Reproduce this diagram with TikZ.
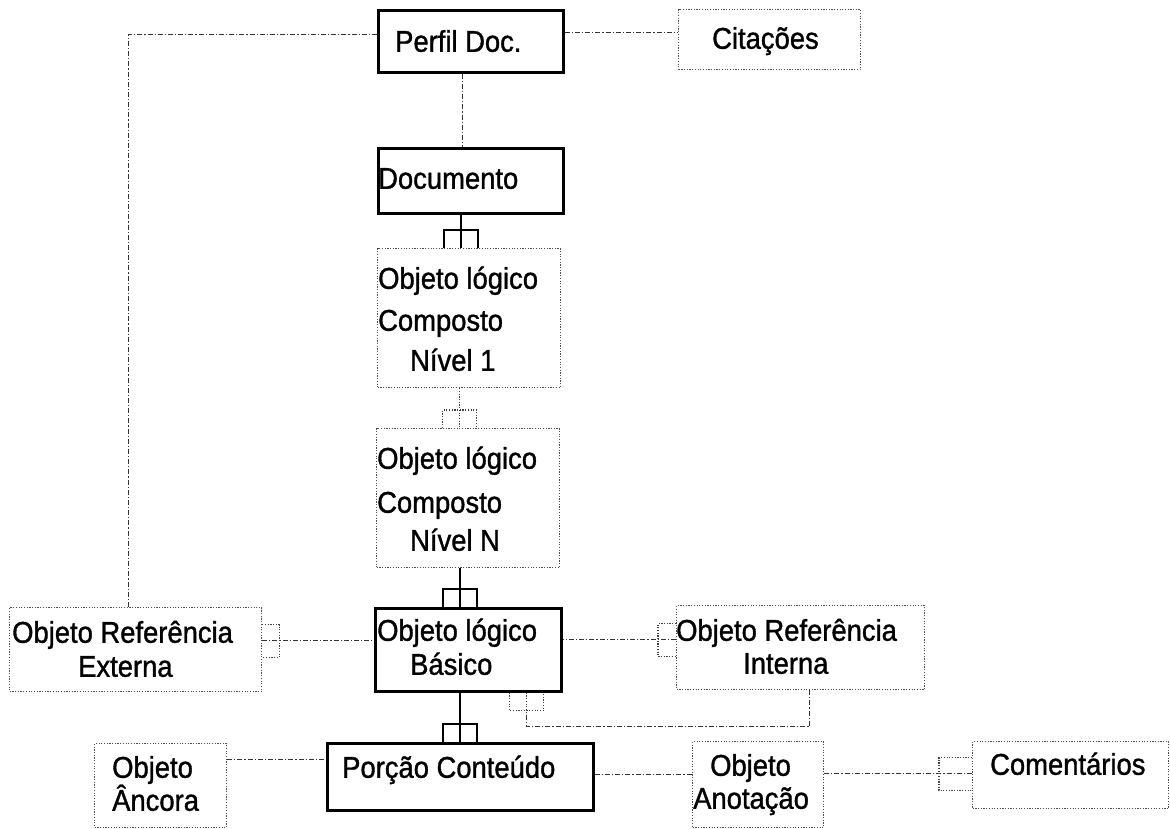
\documentclass[tikz,border=0pt]{standalone}
\usepackage{fontspec}
\newfontfamily\diagfont{Liberation Sans}[FakeBold=1.2, FakeStretch=0.913]
% "many" end drawn below a stem: style, upper node, lower node, stem offset
\newcommand\stemfork[4]{%
  \draw[#1] ([xshift=#4]#2.south) coordinate (fk) -- (fk |- #3.north) coordinate (fb);
  \draw[#1] ([xshift=-17pt]fb) -- ([xshift=-17pt,yshift=18pt]fb)
    -- ([xshift=17pt,yshift=18pt]fb) -- ([xshift=17pt]fb);}
\begin{document}
\begin{tikzpicture}[x=1pt,y=-1pt,
  lbl/.style={inner sep=0pt, anchor=west, text height=21.5pt, text depth=0pt,
    font=\diagfont\fontsize{30}{34}\selectfont},
  solidbox/.style={draw=black, line width=2.7pt, inner sep=0pt, anchor=north west},
  dotbox/.style={draw=black!70, line width=1.2pt, dash pattern=on 1.2pt off 1.5pt,
    inner sep=0pt, anchor=north west},
  link/.style={draw=black!80, line width=1.25pt, dash pattern=on 5pt off 2pt on 1.2pt off 2pt},
  strong/.style={draw=black, line width=2.2pt},
  dotlink/.style={draw=black!75, line width=1.2pt, dash pattern=on 1.2pt off 1.5pt}]
\useasboundingbox (0,0) rectangle (1170,828);

% boxes
\node[solidbox, minimum width=185pt, minimum height=62pt] (perfil) at (377,9) {};
\node[dotbox,   minimum width=182pt, minimum height=60pt] (cit)    at (678,9) {};
\node[solidbox, minimum width=185pt, minimum height=65pt] (doc)    at (377,147) {};
\node[dotbox,   minimum width=183pt, minimum height=139pt] (n1)    at (377,248) {};
\node[dotbox,   minimum width=183pt, minimum height=139pt] (nn)    at (376,428) {};
\node[solidbox, minimum width=186pt, minimum height=83pt] (bas)    at (374,607) {};
\node[dotbox,   minimum width=252pt, minimum height=84pt] (ext)    at (9,607) {};
\node[dotbox,   minimum width=248pt, minimum height=84pt] (int)    at (676,605) {};
\node[solidbox, minimum width=266pt, minimum height=67pt] (por)    at (326,742) {};
\node[dotbox,   minimum width=132pt, minimum height=84pt] (anc)    at (94,743) {};
\node[dotbox,   minimum width=131pt, minimum height=86pt] (anot)   at (692,741) {};
\node[dotbox,   minimum width=196pt, minimum height=67pt] (com)    at (972,741) {};

% labels
\node[lbl] (tperfil) at (395,41) {Perfil Doc.};
\node[lbl] (tcit)    at (712,38) {Citações};
\node[lbl] (tdoc)    at (378,178) {Documento};
\node[lbl] (tn1a)    at (378,278) {Objeto lógico};
\node[lbl] (tn1b)    at (378,320) {Composto};
\node[lbl] (tn1c)    at (410,360) {Nível 1};
\node[lbl] (tnna)    at (377,458) {Objeto lógico};
\node[lbl] (tnnb)    at (377,502) {Composto};
\node[lbl] (tnnc)    at (410,540) {Nível N};
\node[lbl] (tbasa)   at (377,630) {Objeto lógico};
\node[lbl] (tbasb)   at (410,664) {Básico};
\node[lbl] (texta)   at (12,632) {Objeto Referência};
\node[lbl] (textb)   at (78,666) {Externa};
\node[lbl] (tinta)   at (676,630) {Objeto Referência};
\node[lbl] (tintb)   at (743,663) {Interna};
\node[lbl] (tpor)    at (342,767) {Porção Conteúdo};
\node[lbl] (tanca)   at (112,767) {Objeto};
\node[lbl] (tancb)   at (112,800) {Âncora};
\node[lbl] (tanota)  at (710,765) {Objeto};
\node[lbl] (tanotb)  at (693,798) {Anotação};
\node[lbl] (tcom)    at (990,764) {Comentários};

% profile links
\draw[link] ([yshift=9pt]perfil.east) coordinate (pc) -- (pc -| cit.west);
\draw[link] ([yshift=7pt]perfil.west) -| ([xshift=-7pt]ext.north);
\draw[link] ([xshift=-8.5pt]perfil.south) coordinate (pd) -- (pd |- doc.north);

% composition chain
\stemfork{strong}{doc}{n1}{-9.5pt}
\stemfork{dotlink}{n1}{nn}{-9.5pt}
\stemfork{strong}{nn}{bas}{-8.5pt}
\stemfork{strong}{bas}{por}{-8pt}

% external reference
\draw[link] ([yshift=9pt]ext.east) coordinate (fe) -- (fe -| bas.west);
\draw[dotlink] ([yshift=16pt]fe) -- ([xshift=17pt,yshift=16pt]fe)
  -- ([xshift=17pt,yshift=-17pt]fe) -- ([yshift=-17pt]fe);

% internal reference
\draw[link] ([yshift=8pt]int.west) coordinate (fi) -- (fi -| bas.east);
\draw[dotlink] ([yshift=16pt]fi) -- ([xshift=-18pt,yshift=16pt]fi)
  -- ([xshift=-18pt,yshift=-17pt]fi) -- ([yshift=-17pt]fi);
\draw[link] ([xshift=9pt]int.south) |- ([xshift=58pt,yshift=-34pt]bas.south)
  -- ([xshift=58pt,yshift=-18pt]bas.south);
\draw[dotlink] ([xshift=58pt]bas.south) -- ([xshift=58pt,yshift=-18pt]bas.south);
\draw[dotlink] ([xshift=41pt]bas.south) -- ([xshift=41pt,yshift=-18pt]bas.south)
  -- ([xshift=75pt,yshift=-18pt]bas.south) -- ([xshift=75pt]bas.south);

% content portion links
\draw[link] ([yshift=26pt]anc.east) coordinate (ap) -- (ap -| por.west);
\draw[link] ([yshift=2.5pt]por.east) coordinate (pa) -- (pa -| anot.west);
\draw[link] ([yshift=1.5pt]com.west) coordinate (fc) -- (fc -| anot.east);
\draw[dotlink] ([yshift=16pt]fc) -- ([xshift=-33pt,yshift=16pt]fc)
  -- ([xshift=-33pt,yshift=-17pt]fc) -- ([yshift=-17pt]fc);
\end{tikzpicture}
\end{document}
